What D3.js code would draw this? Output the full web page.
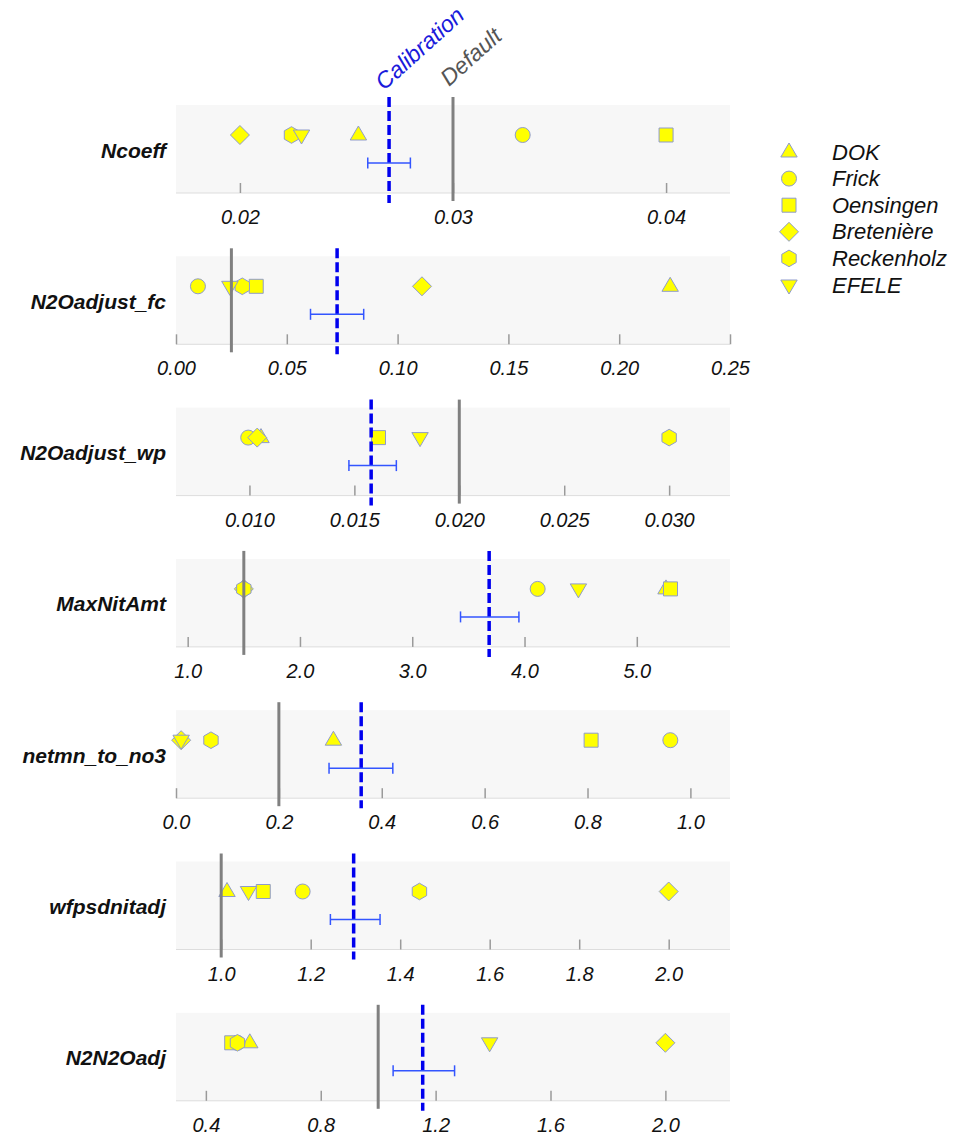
<!DOCTYPE html>
<html>
<head>
<meta charset="utf-8">
<script src="https://cdn.jsdelivr.net/npm/d3@7"></script>
<style>
  body { margin: 0; background: #fff; }
  svg { font-family: "Liberation Sans", Arial, sans-serif; }
</style>
</head>
<body>
<svg id="chart"></svg>
<script>
// parameters (one panel each) and sites
const params = ["Ncoeff", "N2Oadjust_fc", "N2Oadjust_wp", "MaxNitAmt", "netmn_to_no3", "wfpsdnitadj", "N2N2Oadj"];
const sites = ["DOK", "Frick", "Oensingen", "Bretenière", "Reckenholz", "EFELE"];

// default and calibrated values, with calibration interval
const defaults    = [0.030, 0.025, 0.020, 1.5, 0.20, 1.0, 1.0];
const calibration = [0.0270, 0.0727, 0.0158, 3.685, 0.360, 1.296, 1.155];
const calibLow    = [0.0260, 0.0607, 0.01474, 3.43, 0.2975, 1.244, 1.052];
const calibHigh   = [0.0280, 0.0847, 0.0170, 3.95, 0.4215, 1.355, 1.266];

// site-specific calibrated values (same order as params)
const dok        = [0.02556, 0.223, 0.01055, 5.26, 0.306, 1.013, 0.553];
const frick      = [0.03327, 0.0099, 0.00994, 4.117, 0.961, 1.182, 0.51];
const oensingen  = [0.0400, 0.0362, 0.01615, 5.30, 0.807, 1.094, 0.49];
const breteniere = [0.0200, 0.111, 0.01037, 1.5, 0.010, 2.0, 2.0];
const reckenholz = [0.02242, 0.0299, 0.0300, 1.5, 0.068, 1.443, 0.51];
const efele      = [0.02289, 0.0243, 0.01813, 4.48, 0.010, 1.061, 1.388];
const siteValues = [dok, frick, oensingen, breteniere, reckenholz, efele];

// x-axis domains, ticks and tick formats for each panel
const domains = [[0.017, 0.043], [0, 0.25], [0.0065, 0.0329], [0.896, 5.83], [0, 1.077], [0.899, 2.137], [0.296, 2.225]];
const tickValues = [
  [0.02, 0.03, 0.04],
  [0, 0.05, 0.10, 0.15, 0.20, 0.25],
  [0.010, 0.015, 0.020, 0.025, 0.030],
  [1, 2, 3, 4, 5],
  [0, 0.2, 0.4, 0.6, 0.8, 1.0],
  [1.0, 1.2, 1.4, 1.6, 1.8, 2.0],
  [0.4, 0.8, 1.2, 1.6, 2.0]
];
const tickFormats = [".2f", ".2f", ".3f", ".1f", ".1f", ".1f", ".1f"];

const width = 954, height = 1140;
const plotLeft = 176, plotRight = 730;
const firstTop = 105, pitch = 151.3, panelH = 88;

const svg = d3.select("#chart").attr("width", width).attr("height", height);

// marker shapes
const hexagon = r => d3.range(6).map(k => {
  const a = (-90 + k * 60) * Math.PI / 180;
  return [r * Math.cos(a), r * Math.sin(a)];
});
const polyPath = pts => "M" + pts.map(p => p.join(",")).join("L") + "Z";
const shapePaths = [
  polyPath([[0, -9], [8.2, 5], [-8.2, 5]]),                    // DOK triangle up
  d3.symbol(d3.symbolCircle, Math.PI * 7.5 * 7.5)(),           // Frick circle
  polyPath([[-7, -7], [7, -7], [7, 7], [-7, 7]]),              // Oensingen square
  polyPath([[0, -9.5], [9.5, 0], [0, 9.5], [-9.5, 0]]),        // Bretenière diamond
  polyPath(hexagon(8.3)),                                      // Reckenholz hexagon
  polyPath([[0, 9], [8.2, -5], [-8.2, -5]])                    // EFELE triangle down
];
const markerFill = "#ffff00", markerStroke = "#8f9bcc";

params.forEach((p, i) => {
  const top = firstTop + i * pitch;
  const bottom = top + panelH;
  const g = svg.append("g");

  const x = d3.scaleLinear().domain(domains[i]).range([plotLeft, plotRight]);

  // panel background
  g.append("rect")
   .attr("x", plotLeft).attr("y", top)
   .attr("width", plotRight - plotLeft).attr("height", panelH)
   .attr("fill", "#f7f7f7");

  g.append("line")
   .attr("x1", plotLeft).attr("x2", plotRight)
   .attr("y1", bottom).attr("y2", bottom)
   .attr("stroke", "#dddddd").attr("stroke-width", 1);

  // axis with ticks pointing up into the panel
  const axis = g.append("g")
   .attr("transform", `translate(0, ${bottom})`)
   .call(d3.axisBottom(x)
           .tickValues(tickValues[i])
           .tickFormat(d3.format(tickFormats[i]))
           .tickSize(-10)
           .tickPadding(17));
  axis.select(".domain").remove();
  axis.selectAll(".tick line").attr("stroke", "#9a9a9a").attr("stroke-width", 1.5);
  axis.selectAll(".tick text")
      .attr("fill", "#111")
      .style("font-size", "20px")
      .style("font-style", "italic")
      .style("font-family", "'Liberation Sans', Arial, sans-serif");

  // parameter label
  svg.append("text")
     .attr("x", 166).attr("y", top + 45)
     .attr("text-anchor", "end")
     .attr("dominant-baseline", "central")
     .style("font-size", "21px")
     .style("font-weight", "bold")
     .style("font-style", "italic")
     .attr("fill", "#111")
     .text(p);

  // site points
  siteValues.forEach((vals, s) => {
    g.append("path")
     .attr("d", shapePaths[s])
     .attr("transform", `translate(${x(vals[i])}, ${top + 30})`)
     .attr("fill", markerFill)
     .attr("stroke", markerStroke)
     .attr("stroke-width", 1);
  });

  // default line
  g.append("line")
   .attr("x1", x(defaults[i])).attr("x2", x(defaults[i]))
   .attr("y1", top - 8).attr("y2", bottom + 8)
   .attr("stroke", "#808080").attr("stroke-width", 3);

  // calibration line
  g.append("line")
   .attr("x1", x(calibration[i])).attr("x2", x(calibration[i]))
   .attr("y1", top - 8).attr("y2", bottom + 10)
   .attr("stroke", "#0000ee").attr("stroke-width", 3.5)
   .attr("stroke-dasharray", "10,4");

  // calibration interval
  const ey = top + 58;
  const eb = g.append("g").attr("stroke", "#3355ff").attr("stroke-width", 1.5);
  eb.append("line").attr("x1", x(calibLow[i])).attr("x2", x(calibHigh[i])).attr("y1", ey).attr("y2", ey);
  [calibLow[i], calibHigh[i]].forEach(v => {
    eb.append("line").attr("x1", x(v)).attr("x2", x(v)).attr("y1", ey - 5.5).attr("y2", ey + 5.5);
  });

  // header labels above first panel
  if (i === 0) {
    svg.append("text")
       .attr("transform", `translate(${x(calibration[i]) - 5}, ${top - 14}) rotate(-42)`)
       .style("font-size", "23px")
       .style("font-style", "italic")
       .attr("fill", "#1a1adb")
       .text("Calibration");
    svg.append("text")
       .attr("transform", `translate(${x(defaults[i]) - 4}, ${top - 18}) rotate(-42)`)
       .style("font-size", "23px")
       .style("font-style", "italic")
       .attr("fill", "#555555")
       .text("Default");
  }
});

// legend
const legend = svg.append("g");
sites.forEach((s, k) => {
  const y = 152 + k * 26.6;
  legend.append("path")
        .attr("d", shapePaths[k])
        .attr("transform", `translate(789, ${y})`)
        .attr("fill", markerFill)
        .attr("stroke", markerStroke)
        .attr("stroke-width", 1);
  legend.append("text")
        .attr("x", 832).attr("y", y)
        .attr("dominant-baseline", "central")
        .style("font-size", "22px")
        .style("font-style", "italic")
        .attr("fill", "#111")
        .text(s);
});
</script>
</body>
</html>
